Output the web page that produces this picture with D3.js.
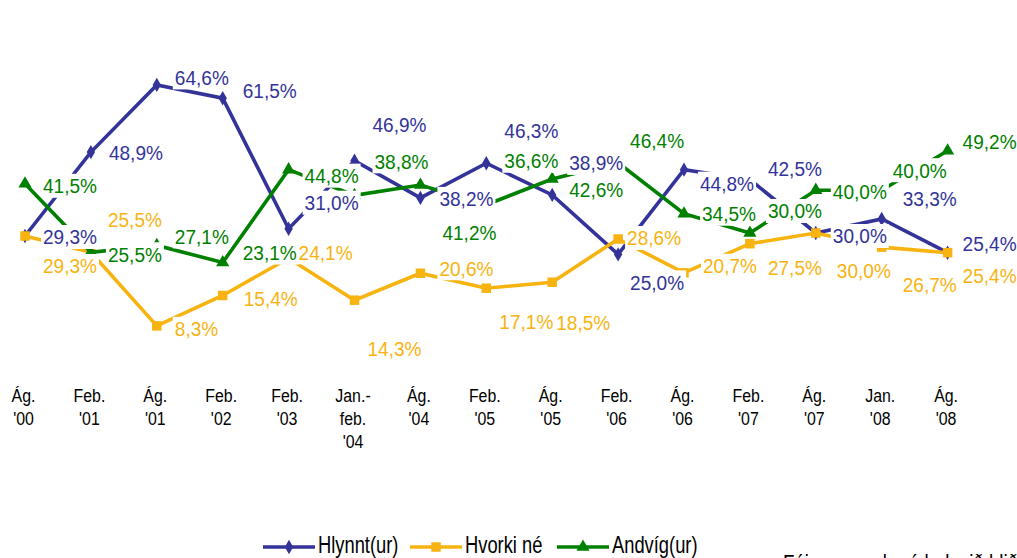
<!DOCTYPE html>
<html>
<head>
<meta charset="utf-8">
<script src="https://cdn.jsdelivr.net/npm/d3@7"></script>
<style>
html,body{margin:0;padding:0;background:#fff;overflow:hidden;}
svg{display:block;}
text{font-family:"Liberation Sans",Arial,sans-serif;}
</style>
</head>
<body>
<svg id="chart" width="1017" height="558"></svg>
<script>
// ---- data ----
const categories = ["Ág.\n'00","Feb.\n'01","Ág.\n'01","Feb.\n'02","Feb.\n'03","Jan.-\nfeb.\n'04","Ág.\n'04","Feb.\n'05","Ág.\n'05","Feb.\n'06","Ág.\n'06","Feb.\n'07","Ág.\n'07","Jan.\n'08","Ág.\n'08"];
const hlynnt = [29.3,48.9,64.6,61.5,31.0,46.9,38.2,46.3,38.9,25.0,44.8,42.5,30.0,33.3,25.4];
const hvorki = [29.3,25.5,8.3,15.4,24.1,14.3,20.6,17.1,18.5,28.6,20.7,27.5,30.0,26.7,25.4];
const andvig = [41.5,25.5,27.1,23.1,44.8,38.8,41.2,36.6,42.6,46.4,34.5,30.0,40.0,40.0,49.2];
const seriesNames = ["Hlynnt(ur)","Hvorki né","Andvíg(ur)"];
const footText = "Fáir svarendur á bak við hlið";

// ---- layout (label offsets from each point, px) ----
const labelOffsets = [
  [[18,1],[18,0],[18,-7.5],[20,-8],[16,-26],[18,-36],[19,1],[18,-33],[17,-32],[12,28],[16,14],[18,-11],[17,3],[21,-20],[15,-9]],
  [[18,30],[17,-33],[18,3],[21,3],[10,-6],[13,48],[19,-5],[13,33],[4,40],[9,-1],[19,-7],[18,24],[21,38],[21,37],[15,23]],
  [[18,2],[17,2],[18,-9],[20,-10],[16,6],[20,-34],[22,48],[18,-44],[17,11],[12,-22],[18,0],[18,-22],[17,1],[11,-20],[15,-9]]
];
const colors = ["#333399","#F7B30F","#008000"];
const SXL = 0.93, SXA = 0.86, SXG = 0.78;

const svg = d3.select("#chart");
const x = d3.scalePoint().domain(categories).range([25, 947.6]);
const y = d3.scaleLinear().domain([0, 70]).range([361.4, 361.4 - 4.28*70]);

const series = [hlynnt, hvorki, andvig].map((vals, i) => ({
  name: seriesNames[i], color: colors[i],
  points: vals.map((v, j) => ({cat: categories[j], v, j}))
}));

// axis (no line, no ticks)
const axis = d3.axisBottom(x).tickSize(0).tickFormat("");
const ag = svg.append("g").attr("transform", "translate(0,380)").call(axis);
ag.select(".domain").remove();
ag.selectAll(".tick").each(function(d){
  const lines = d.split("\n");
  const g = d3.select(this);
  lines.forEach((ln, k) => {
    g.append("text")
      .attr("transform", `translate(-2,${21.7 + k*23}) scale(${SXA},1)`)
      .attr("text-anchor","middle")
      .attr("fill","#000")
      .style("font-size","18.5px")
      .text(ln);
  });
});

const line = d3.line().x(d => x(d.cat)).y(d => y(d.v));
const markers = [
  d3.symbol().type(d3.symbolDiamond).size(60),
  d3.symbol().type(d3.symbolSquare).size(90),
  d3.symbol().type(d3.symbolTriangle).size(75)
];

series.forEach((s, i) => {
  const g = svg.append("g");
  g.append("path").datum(s.points)
    .attr("d", line).attr("fill","none")
    .attr("stroke", s.color).attr("stroke-width", 3.6)
    .attr("stroke-linejoin","miter");
  g.selectAll("path.m").data(s.points).join("path")
    .attr("class","m")
    .attr("d", markers[i]())
    .attr("transform", d => `translate(${x(d.cat)},${y(d.v)})`)
    .attr("fill", s.color);
});

// data labels (white boxes on top)
const fmt = v => v.toFixed(1).replace(".", ",") + "%";
const lg = svg.append("g");
series.forEach((s, i) => {
  s.points.forEach(p => {
    const [dx, dy] = labelOffsets[i][p.j];
    const lx = x(p.cat) + dx, cy = y(p.v) + dy;
    const rect = lg.append("rect").attr("fill","#fff");
    const t = lg.append("text")
      .attr("transform", `translate(${lx},${cy + 7.4}) scale(${SXL},1)`)
      .attr("fill", s.color)
      .style("font-size","20.5px")
      .text(fmt(p.v));
    const w = t.node().getBBox().width * SXL;
    rect.attr("x", lx - 2).attr("y", cy - 12).attr("width", w + 4).attr("height", 24);
  });
});

// legend
const legX = [263, 410, 557];
const legY = 547;
series.forEach((s, i) => {
  const g = svg.append("g");
  g.append("line").attr("x1", legX[i]).attr("x2", legX[i] + 52)
    .attr("y1", legY).attr("y2", legY)
    .attr("stroke", s.color).attr("stroke-width", 3.6);
  g.append("path").attr("d", markers[i]())
    .attr("transform", `translate(${legX[i]+26},${legY})`).attr("fill", s.color);
  g.append("text")
    .attr("transform", `translate(${legX[i]+55},${legY+6}) scale(${SXG},1)`)
    .style("font-size","23.5px").attr("fill","#000")
    .text(s.name);
});

svg.append("text")
  .attr("transform", `translate(783,571.5) scale(${SXG},1)`)
  .style("font-size","24px").attr("fill","#000")
  .text(footText);
</script>
</body>
</html>
